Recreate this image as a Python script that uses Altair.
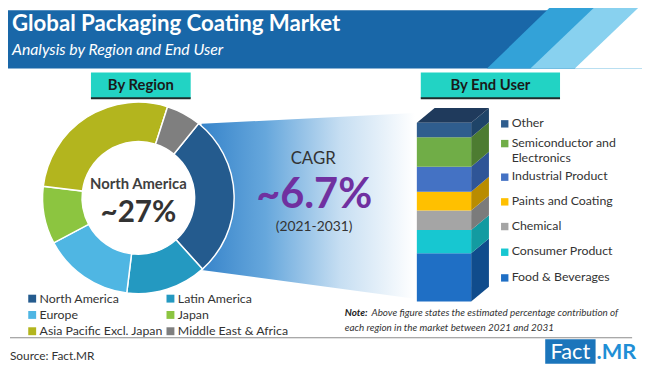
import math
import pandas as pd
import altair as alt

# ---------------- data ----------------
regions = ["North America", "Latin America", "Europe", "Japan",
           "Asia Pacific Excl. Japan", "Middle East & Africa"]
region_share = [27.5, 13.6, 15.3, 9.7, 28.0, 5.9]
region_colors = ["#245b8e", "#2499c1", "#4fb6e3", "#8cc540", "#b3b51e", "#7f7f7f"]

# bottom -> top of the stacked column
end_users = ["Food & Beverages", "Consumer Product", "Chemical", "Paints and Coating",
             "Industrial Product", "Semiconductor and Electronics", "Other"]
end_user_share = [27.0, 13.0, 11.0, 10.5, 14.0, 16.5, 8.0]
end_user_colors = ["#1f6fc5", "#17c7d1", "#a5a5a5", "#ffc000", "#4472c4", "#70ad47", "#2f5d8e"]
end_user_side = ["#104c8c", "#139ba1", "#7b7b7b", "#b98c00", "#2f5597", "#4d7c31", "#1f4468"]

title = "Global Packaging Coating Market"
subtitle = "Analysis by Region and End User"
headline_region = "North America"
headline_share = "~27%"
cagr_label = "CAGR"
cagr_value = "~6.7%"
cagr_period = "(2021-2031)"
note_head = "Note:"
note_line1 = "Above figure states the estimated percentage contribution of"
note_line2 = "each region in the market between 2021 and 2031"
source = "Source: Fact.MR"

# ---------------- layout helpers ----------------
M = 8  # page margin; reference pixel -> chart pixel
W, H = 650 - M, 374 - M
PX = alt.Scale(domain=[M, 650], range=[0, W])
PY = alt.Scale(domain=[M, 374], range=[0, H])


def V(p):
    return alt.value(p - M)


one = pd.DataFrame({"k": [0]})
FONT = "Lato"


def text(s, x, y, size, color="#333333", weight="normal", style="normal",
         align="center", baseline="middle", font=FONT):
    return alt.Chart(one).mark_text(
        text=s, fontSize=size, color=color, fontWeight=weight, fontStyle=style,
        align=align, baseline=baseline, font=font
    ).encode(x=V(x), y=V(y))


def rect(x, x2, y, y2, color):
    return alt.Chart(one).mark_rect(color=color).encode(x=V(x), x2=V(x2), y=V(y), y2=V(y2))


def hband(top_x, bot_x, color):
    # parallelogram stripe in the banner: left edge slanted, right edge off-canvas
    df = pd.DataFrame({"py": [0, 67], "a": [top_x, bot_x], "b": [700, 700]})
    return alt.Chart(df).mark_area(orient="horizontal", color=color).encode(
        y=alt.Y("py:Q", scale=PY, axis=None),
        x=alt.X("a:Q", scale=PX, axis=None), x2="b:Q")


layers = []

# ---- header banner ----
layers.append(alt.Chart(one).mark_rect(color="#1967a8").encode(
    x=alt.value(0), x2=alt.value(W), y=alt.value(0), y2=V(67)))
layers.append(hband(562, 493, "#33a2d8"))
layers.append(hband(607, 537, "#88d1ef"))
layers.append(hband(652, 582, "#ffffff"))
layers.append(text(title, 12, 29, 22.5, "white", "bold", align="left", baseline="alphabetic"))
layers.append(text(subtitle, 12, 53, 16, "white", style="italic", align="left", baseline="alphabetic"))

# ---- section boxes ----
layers.append(rect(92, 193, 71, 97, "#22d3c4"))
layers.append(rect(92, 193, 96, 98, "#1d2b2b"))
layers.append(text("By Region", 142.5, 84, 15, "#1a1a1a", "bold"))
layers.append(rect(426, 567, 71, 97, "#22d3c4"))
layers.append(rect(426, 567, 96, 98, "#1d2b2b"))
layers.append(text("By End User", 496.5, 84, 15, "#1a1a1a", "bold"))

# ---- funnel gradient ----
funnel = pd.DataFrame({"px": [204, 420], "top": [123, 112], "bot": [271, 300]})
grad = alt.LinearGradient(gradient="linear", x1=0, x2=1, y1=0, y2=0, stops=[
    alt.GradientStop(color="#3784ca", offset=0),
    alt.GradientStop(color="#66a7dc", offset=0.3),
    alt.GradientStop(color="#c6def2", offset=0.65),
    alt.GradientStop(color="#ffffff", offset=1)])
layers.append(alt.Chart(funnel).mark_area(orient="vertical", color=grad).encode(
    x=alt.X("px:Q", scale=PX, axis=None),
    y=alt.Y("top:Q", scale=PY, axis=None), y2="bot:Q"))

# ---- donut ----
start = math.radians(39)
donut_df = pd.DataFrame({"region": regions, "share": region_share, "i": range(len(regions))})
layers.append(alt.Chart(donut_df).mark_arc(
    innerRadius=57, outerRadius=97, stroke="white", strokeWidth=1.5).encode(
    theta=alt.Theta("share:Q", stack=True,
                    scale=alt.Scale(range=[start, start + 2 * math.pi])),
    color=alt.Color("region:N", scale=alt.Scale(domain=regions, range=region_colors), legend=None),
    order=alt.Order("i:Q"),
    x=V(140), y=V(198)))
layers.append(text(headline_region, 140, 184, 15, "#404040", "bold"))
layers.append(text(headline_share, 140, 213, 30, "#333333", "bold"))

# ---- CAGR ----
layers.append(text(cagr_label, 317, 164, 17, "#333333", baseline="alphabetic"))
layers.append(text(cagr_value, 318, 208, 42, "#7030a0", "bold", baseline="alphabetic"))
layers.append(text(cagr_period, 318, 228, 14, "#333333"))

# ---- 3D stacked column ----
total = sum(end_user_share)
bar_bottom, bar_top = 303, 122
BAR = alt.Scale(domain=[0, total], range=[bar_bottom - M, bar_top - M])
depth_px = 15
s = depth_px * total / (bar_bottom - bar_top)

front_rows, side_rows = [], []
cum = 0.0
for name, v in zip(end_users, end_user_share):
    front_rows.append({"seg": name, "lo": cum, "hi": cum + v})
    side_rows.append({"seg": name, "px": 477, "lo": cum, "hi": cum + v})
    side_rows.append({"seg": name, "px": 495, "lo": cum + s, "hi": cum + v + s})
    cum += v
front_df = pd.DataFrame(front_rows)
side_df = pd.DataFrame(side_rows)
top_df = pd.DataFrame({"px": [422, 440, 477, 495],
                       "lo": [total, total, total, total + s],
                       "hi": [total, total + s, total + s, total + s]})

layers.append(alt.Chart(side_df).mark_area(orient="vertical").encode(
    x=alt.X("px:Q", scale=PX, axis=None),
    y=alt.Y("lo:Q", scale=BAR, axis=None), y2="hi:Q",
    color=alt.Color("seg:N", scale=alt.Scale(domain=end_users, range=end_user_side), legend=None)))
layers.append(alt.Chart(top_df).mark_area(orient="vertical", color="#1f3a5c").encode(
    x=alt.X("px:Q", scale=PX, axis=None),
    y=alt.Y("lo:Q", scale=BAR, axis=None), y2="hi:Q"))
layers.append(alt.Chart(front_df).mark_rect().encode(
    x=V(422), x2=V(477),
    y=alt.Y("lo:Q", scale=BAR, axis=None), y2="hi:Q",
    color=alt.Color("seg:N", scale=alt.Scale(domain=end_users, range=end_user_colors), legend=None)))

# ---- end-user legend ----
eu_rows_y = [123, 143, 177, 202, 227, 253, 279]
eu_leg = pd.DataFrame({
    "seg": end_users[::-1],
    "label": [n.replace("and Electronics", "and\nElectronics") for n in end_users[::-1]],
    "py": eu_rows_y,
    "pyt": [y - 7 for y in eu_rows_y],
})
layers.append(alt.Chart(eu_leg).mark_square(size=56, opacity=1).encode(
    x=V(511), y=alt.Y("py:Q", scale=PY, axis=None),
    color=alt.Color("seg:N", scale=alt.Scale(domain=end_users, range=end_user_colors), legend=None)))
layers.append(alt.Chart(eu_leg).mark_text(
    align="left", baseline="top", fontSize=12.5, font=FONT, color="#333333",
    lineBreak="\n", lineHeight=16).encode(
    x=V(518), y=alt.Y("pyt:Q", scale=PY, axis=None), text="label:N"))

# ---- region legend ----
reg_leg = pd.DataFrame({
    "region": regions,
    "px": [32.5 + 140 * (i % 2) for i in range(len(regions))],
    "tx": [40 + 140 * (i % 2) for i in range(len(regions))],
    "py": [300 + 16.5 * (i // 2) for i in range(len(regions))],
})
layers.append(alt.Chart(reg_leg).mark_square(size=64, opacity=1).encode(
    x=alt.X("px:Q", scale=PX, axis=None), y=alt.Y("py:Q", scale=PY, axis=None),
    color=alt.Color("region:N", scale=alt.Scale(domain=regions, range=region_colors), legend=None)))
layers.append(alt.Chart(reg_leg).mark_text(
    align="left", baseline="middle", fontSize=12.5, font=FONT, color="#333333").encode(
    x=alt.X("tx:Q", scale=PX, axis=None), y=alt.Y("py:Q", scale=PY, axis=None), text="region:N"))

# ---- note ----
layers.append(text(note_head, 349, 315, 10, "#222222", "bold", "italic", align="left"))
layers.append(text(note_line1, 376, 315, 10, "#333333", style="italic", align="left"))
layers.append(text(note_line2, 349, 330, 10, "#333333", style="italic", align="left"))

# ---- footer ----
layers.append(rect(10, 640, 339, 340, "#8c8c8c"))
layers.append(text(source, 10, 358, 12, "#333333", align="left"))
layers.append(rect(552, 603, 341, 366, "#1b75bb"))
layers.append(text("Fact", 577.5, 354, 22, "white"))
layers.append(text(".MR", 604, 354, 22, "#1f8fd6", "bold", align="left"))

chart = alt.layer(*layers).resolve_scale(
    x="independent", y="independent", color="independent"
).properties(
    width=W, height=H, padding=0,
    autosize=alt.AutoSizeParams(type="none"),
).configure_view(stroke=None)

chart.save("out.html", embed_options={"renderer": "svg", "actions": False})
